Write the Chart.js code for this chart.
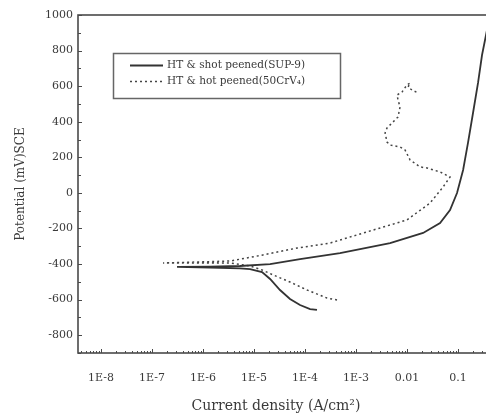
<!DOCTYPE html>
<html>
<head>
<meta charset="utf-8">
<script src="https://cdn.jsdelivr.net/npm/chart.js@4"></script>
<style>
html,body{margin:0;padding:0;background:#fff;overflow:hidden;width:486px;height:419px;}
canvas{display:block;}
</style>
</head>
<body>
<canvas id="c" width="520" height="419" style="width:520px;height:419px"></canvas>
<script>
// ---- data ----
const seriesLabels = ['HT & shot peened(SUP-9)', 'HT & hot peened(50CrV\u2084)'];
const xTickValues = [1e-8, 1e-7, 1e-6, 1e-5, 1e-4, 1e-3, 0.01, 0.1];
const xTickLabels = ['1E-8', '1E-7', '1E-6', '1E-5', '1E-4', '1E-3', '0.01', '0.1'];
const yTickValues = [-800, -600, -400, -200, 0, 200, 400, 600, 800, 1000];

// SUP-9 (solid): current density (A/cm2)
const supX = [1.72e-4, 1.26e-4, 8.0e-5, 5.09e-5, 3.24e-5, 2.07e-5, 1.44e-5, 8.38e-6, 5.32e-6, 1.37e-6, 3.10e-7,
  1.37e-6, 5.3e-6, 2.07e-5, 8.0e-5, 4.86e-4, 4.66e-3, 0.0207, 0.0445, 0.0698, 0.0957, 0.126, 0.157, 0.197, 0.247, 0.296, 0.388];
// potential (mV SCE)
const supY = [-658, -653, -630, -596, -546, -484, -445, -428, -424, -420, -416,
  -414, -411, -400, -372, -338, -282, -225, -169, -96, -1, 129, 281, 449, 618, 775, 944];

// 50CrV4 (dotted)
const crvX = [4.25e-4, 2.70e-4, 1.10e-4, 5.09e-5, 2.37e-5, 1.44e-5, 8.38e-6, 3.39e-6, 8.75e-7, 1.65e-7,
  8.75e-7, 3.39e-6, 1.50e-5, 6.98e-5, 3.10e-4, 4.86e-4, 2.16e-3, 0.0100, 0.0283, 0.0509, 0.0698,
  0.0445, 0.0247, 0.0180, 0.0115, 0.00917, 0.00731, 0.00466, 0.00406, 0.00372, 0.00406, 0.00509, 0.00668,
  0.00731, 0.00668, 0.00638, 0.0080, 0.0100, 0.0115, 0.0105, 0.01256, 0.0165];
const crvY = [-602, -591, -546, -501, -461, -433, -411, -394, -394, -394,
  -388, -383, -349, -310, -282, -265, -209, -152, -57, 33, 89,
  118, 140, 146, 185, 241, 258, 269, 286, 337, 365, 393, 427,
  483, 522, 550, 567, 607, 618, 595, 578, 562];

const toPts = (xs, ys) => xs.map((x, i) => ({x: x, y: ys[i]}));

const INK = '#3a3a3a';
const SERIF = '"DejaVu Serif", serif';

const framePlugin = {
  id: 'frame',
  afterDatasetsDraw(chart) {
    const ctx = chart.ctx;
    const a = chart.chartArea;
    const xs = chart.scales.x, ys = chart.scales.y;
    ctx.save();
    // frame
    ctx.strokeStyle = '#4a4a4a';
    ctx.lineWidth = 1.6;
    ctx.strokeRect(a.left, a.top, a.right - a.left, a.bottom - a.top);
    // y ticks (major + minor, inward)
    ctx.lineWidth = 1;
    for (let v = -900; v <= 1000; v += 100) {
      const py = Math.round(ys.getPixelForValue(v)) + 0.5;
      const len = (v % 200 === 0) ? 4 : 3;
      ctx.beginPath(); ctx.moveTo(a.left, py); ctx.lineTo(a.left + len, py); ctx.stroke();
    }
    // x ticks (major decades + log minor, inward)
    for (let e = -9; e <= 0; e++) {
      for (let k = 1; k <= 9; k++) {
        const v = k * Math.pow(10, e);
        if (v < xs.min || v > xs.max) continue;
        const px = Math.round(xs.getPixelForValue(v)) + 0.5;
        const len = (k === 1) ? 4 : 2;
        ctx.beginPath(); ctx.moveTo(px, a.bottom); ctx.lineTo(px, a.bottom - len); ctx.stroke();
      }
    }
    // axis titles
    ctx.fillStyle = INK;
    ctx.font = '14px ' + SERIF;
    ctx.textAlign = 'center';
    ctx.textBaseline = 'middle';
    ctx.fillText('Current density (A/cm\u00B2)', 276, 406);
    ctx.save();
    ctx.translate(21, (a.top + a.bottom) / 2);
    ctx.rotate(-Math.PI / 2);
    ctx.font = '12px ' + SERIF;
    ctx.fillText('Potential (mV)SCE', 0, 0);
    ctx.restore();
    // legend
    ctx.strokeStyle = '#666';
    ctx.lineWidth = 1.5;
    ctx.strokeRect(113.5, 53.5, 227, 45);
    const rows = [65, 81];
    chart.data.datasets.forEach((ds, i) => {
      const y = rows[i] + 0.5;
      ctx.strokeStyle = ds.borderColor;
      ctx.lineWidth = ds.borderWidth;
      ctx.setLineDash(ds.borderDash || []);
      ctx.beginPath(); ctx.moveTo(130, y); ctx.lineTo(163, y); ctx.stroke();
      ctx.setLineDash([]);
      ctx.fillStyle = INK;
      ctx.font = '10.5px ' + SERIF;
      ctx.textAlign = 'left';
      ctx.textBaseline = 'middle';
      ctx.fillText(ds.label, 167, rows[i]);
    });
    ctx.restore();
  }
};

new Chart(document.getElementById('c'), {
  type: 'scatter',
  data: {
    datasets: [
      {label: seriesLabels[0], data: toPts(supX, supY), showLine: true, pointRadius: 0,
       borderColor: '#333', borderWidth: 1.8, tension: 0},
      {label: seriesLabels[1], data: toPts(crvX, crvY), showLine: true, pointRadius: 0,
       borderColor: '#444', borderWidth: 1.5, borderDash: [2, 3], tension: 0}
    ]
  },
  options: {
    responsive: false,
    animation: false,
    layout: {padding: {top: 15, right: 11, left: 0, bottom: 0}},
    plugins: {legend: {display: false}, tooltip: {enabled: false}},
    scales: {
      x: {
        type: 'logarithmic',
        min: 3.55e-9, max: 1,
        afterBuildTicks: s => { s.ticks = xTickValues.map(v => ({value: v})); },
        afterFit: s => { s.height = 66; },
        grid: {display: false, drawTicks: false},
        border: {display: false},
        ticks: {
          autoSkip: false, maxRotation: 0, padding: 19,
          color: INK, font: {family: SERIF, size: 11},
          callback: (v, i) => xTickLabels[i]
        }
      },
      y: {
        type: 'linear',
        min: -900, max: 1000,
        afterBuildTicks: s => { s.ticks = yTickValues.map(v => ({value: v})); },
        afterFit: s => { s.width = 78; },
        grid: {display: false, drawTicks: false},
        border: {display: false},
        ticks: {padding: 5, color: INK, font: {family: SERIF, size: 11},
          callback: v => String(v)}
      }
    }
  },
  plugins: [framePlugin]
});
</script>
</body>
</html>
